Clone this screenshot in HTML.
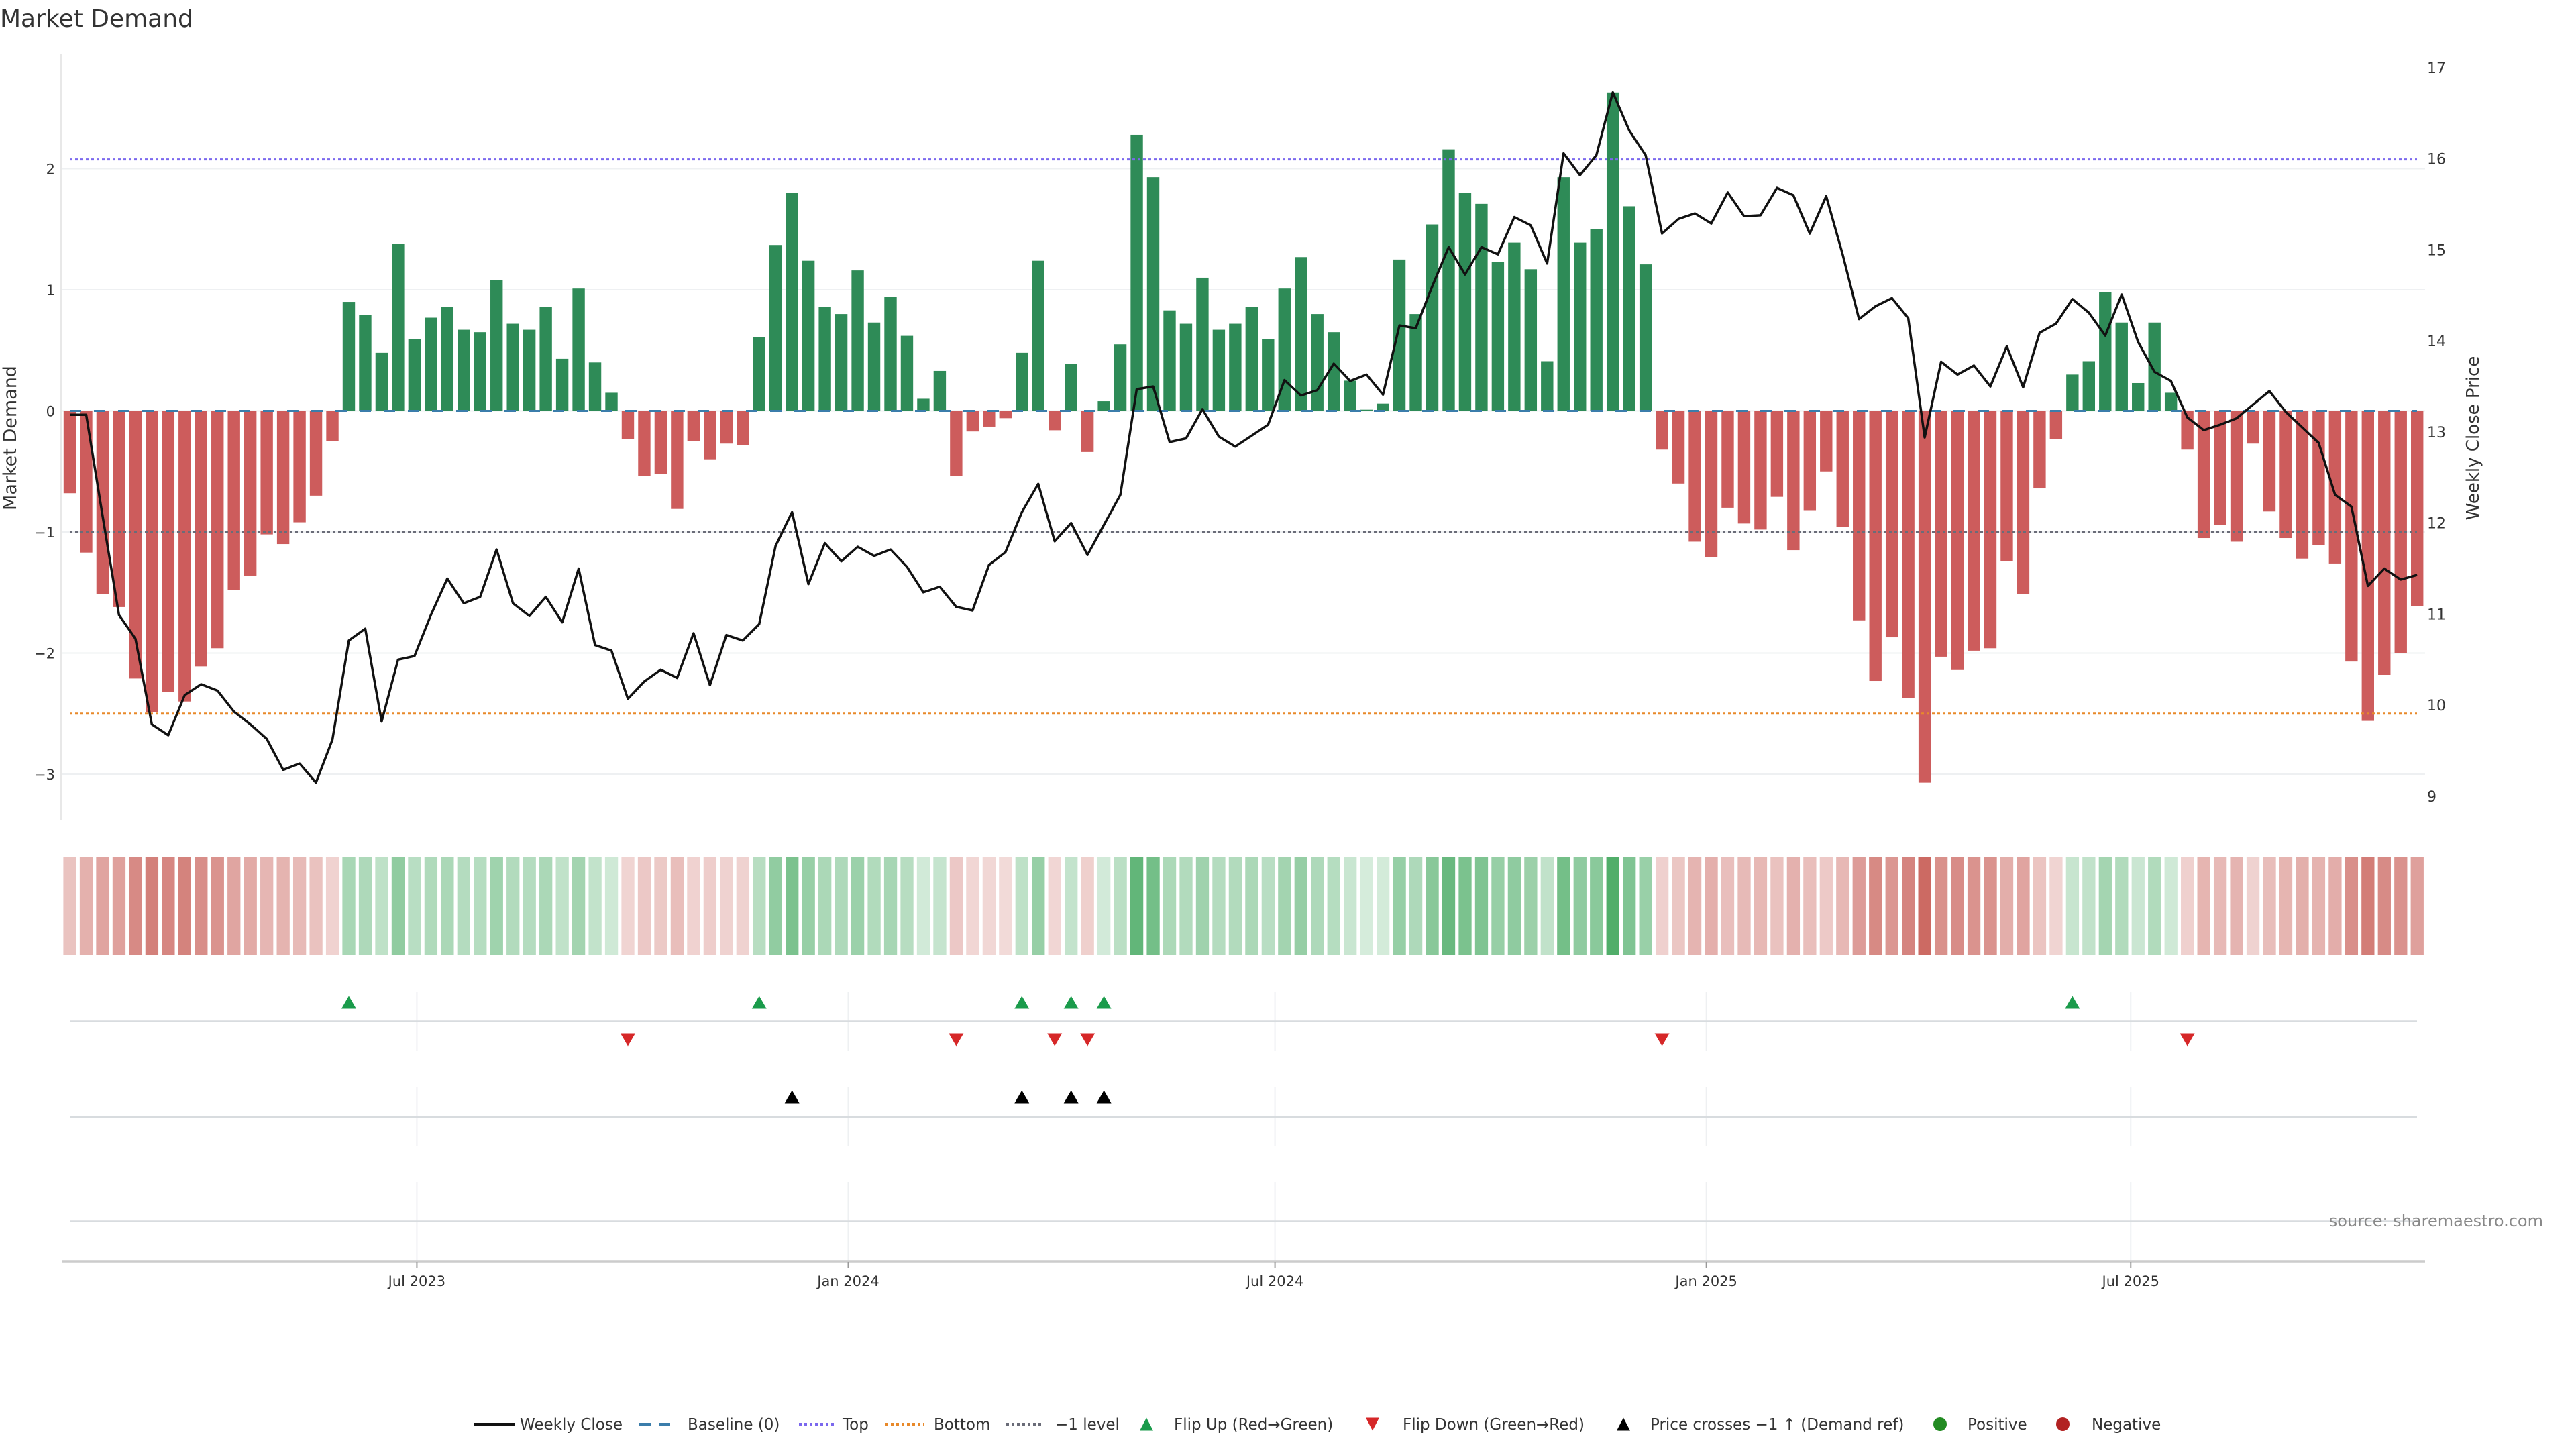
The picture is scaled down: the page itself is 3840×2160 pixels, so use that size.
<!DOCTYPE html>
<html><head><meta charset="utf-8"><title>Market Demand</title>
<style>
html,body{margin:0;padding:0;background:#fff;}
svg{display:block;font-family:"DejaVu Sans","Liberation Sans",sans-serif;}
</style></head>
<body>
<svg id="chart" width="3840" height="2160" viewBox="0 0 3840 2160" xmlns="http://www.w3.org/2000/svg">
<rect width="3840" height="2160" fill="#fff"/>
<text x="0" y="40" font-size="36" fill="#333">Market Demand</text>
<g id="main"></g>
<g id="heat"></g>
<g id="markers"></g>
<g id="xaxis"></g>
<g id="legend"></g>
<text x="3791" y="1828" font-size="24" fill="#888" text-anchor="end">source: sharemaestro.com</text>
</svg>
<script>
const demand = [-0.68,-1.17,-1.51,-1.62,-2.21,-2.49,-2.32,-2.40,-2.11,-1.96,-1.48,-1.36,-1.02,-1.10,-0.92,-0.70,-0.25,
0.90,0.79,0.48,1.38,0.59,0.77,0.86,0.67,0.65,1.08,0.72,0.67,0.86,0.43,1.01,0.40,0.15,
-0.23,-0.54,-0.52,-0.81,-0.25,-0.40,-0.27,-0.28,
0.61,1.37,1.80,1.24,0.86,0.80,
1.16,0.73,0.94,0.62,0.10,0.33,
-0.54,-0.17,-0.13,-0.06,
0.48,1.24,-0.16,0.39,-0.34,0.08,
0.55,2.28,1.93,0.83,0.72,1.10,0.67,0.72,0.86,0.59,1.01,1.27,0.80,0.65,0.25,
0.01,
0.06,1.25,0.80,1.54,2.16,1.80,1.71,1.23,1.39,1.17,0.41,1.93,1.39,1.50,2.63,1.69,1.21,
-0.32,-0.60,-1.08,-1.21,-0.80,-0.93,-0.98,-0.71,-1.15,-0.82,-0.50,-0.96,-1.73,-2.23,-1.87,-2.37,-3.07,-2.03,-2.14,-1.98,-1.96,-1.24,-1.51,-0.64,-0.23,
0.30,0.41,0.98,0.73,0.23,0.73,0.15,
-0.32,-1.05,-0.94,-1.08,-0.27,-0.83,-1.05,-1.22,-1.11,-1.26,-2.07,-2.56,-2.18,-2.00,-1.61];
const price = [13.19,13.19,12.08,10.99,10.73,9.79,9.67,10.11,10.23,10.16,9.93,9.79,9.63,9.29,9.36,9.15,9.62,
10.71,10.84,9.82,10.50,10.54,10.99,11.39,11.12,11.19,11.71,11.12,10.98,11.19,10.91,11.50,10.66,10.60,
10.07,10.26,10.39,10.30,10.79,10.22,10.77,10.71,10.89,11.75,12.12,11.33,11.78,11.58,11.74,11.64,
11.71,11.52,11.24,11.30,11.08,11.04,11.54,11.68,12.12,12.43,11.80,12.00,11.65,11.98,12.31,13.47,13.50,12.89,12.93,13.25,12.95,12.84,12.96,13.08,13.57,13.40,13.46,13.75,13.56,13.63,13.41,14.17,14.14,14.60,15.03,14.73,15.03,14.95,15.36,15.27,14.85,16.06,15.82,16.04,16.73,16.31,16.04,15.18,15.34,15.40,
15.29,15.63,15.37,15.38,15.68,15.60,15.18,15.59,14.95,14.24,14.38,14.47,14.25,12.94,13.77,13.63,13.73,13.50,13.94,13.49,14.09,14.19,14.46,14.31,14.06,14.51,13.99,13.66,13.56,13.16,13.02,13.08,13.15,13.30,13.45,13.22,13.05,12.88,12.31,12.18,11.31,11.50,11.38,11.43];
const demandTicks = [2,1,0,-1,-2,-3];
const demandTickLabels = ["2","1","0","\u22121","\u22122","\u22123"];
const priceTicks = [17,16,15,14,13,12,11,10,9];
const dateTicks = ["2023-07-01","2024-01-01","2024-07-01","2025-01-01","2025-07-01"];
const dateTickLabels = ["Jul 2023","Jan 2024","Jul 2024","Jan 2025","Jul 2025"];
const topLevel = 2.077, bottomLevel = -2.5, refLevel = -1;

const NS = "http://www.w3.org/2000/svg";
function mk(tag, attrs, parent){const e=document.createElementNS(NS,tag);for(const k in attrs)e.setAttribute(k,attrs[k]);parent.appendChild(e);return e;}
const xBar = i => 104 + i*24.47;
const yDem = v => 612.5 - v*180.5;
const yPrice = p => 236.7 + (16-p)*135.75;
const priceFromY = y => 16 - (y-236.7)/135.75;
const xDate = s => 1264.5 + (Date.parse(s)-Date.parse("2024-01-01"))/86400000*3.495;
const L=91, R=3615;

const main=document.getElementById('main');
demandTicks.forEach((t,k)=>{
  const g=mk('line',{x1:L,x2:R,y1:yDem(t),y2:yDem(t),stroke:'#eef0f2','stroke-width':2},main);
  
  
  const tx=mk('text',{x:82,y:yDem(t)+8,'font-size':21,fill:'#333','text-anchor':'end'},main);
  tx.textContent=demandTickLabels[k];
  
  
});
const ax=mk('line',{x1:L,x2:L,y1:80,y2:1222,stroke:'#e8e8e8','stroke-width':2},main);


priceTicks.forEach(p=>{
  const tx=mk('text',{x:3618,y:yPrice(p)+8,'font-size':22,fill:'#333'},main);
  tx.textContent=String(p);
  
  
});
const yt=mk('text',{x:0,y:0,'font-size':27,fill:'#333','text-anchor':'middle',transform:'translate(24,653) rotate(-90)'},main);
yt.textContent='Market Demand';


const yt2=mk('text',{x:0,y:0,'font-size':26,fill:'#333','text-anchor':'middle',transform:'translate(3695,653) rotate(-90)'},main);
yt2.textContent='Weekly Close Price';


demand.forEach((v,i)=>{
  const y0=yDem(0), y1=yDem(v);
  const b=mk('rect',{x:xBar(i)-9.2,y:Math.min(y0,y1),width:18.4,height:Math.max(0.5,Math.abs(y1-y0)),fill:v>=0?'#2e8b57':'#cd5c5c'},main);
  
  
});
[[topLevel,'#7b68ee','top-level-line'],[bottomLevel,'#e8892a','bottom-level-line'],[refLevel,'#6a6c78','minus-one-level-line']].forEach(a=>{
  const l=mk('line',{x1:104,x2:3603,y1:yDem(a[0]),y2:yDem(a[0]),stroke:a[1],'stroke-width':3,'stroke-dasharray':'4 4'},main);
  
  
});
const bl=mk('line',{x1:104,x2:3603,y1:yDem(0),y2:yDem(0),stroke:'#3b7dab','stroke-width':3,'stroke-dasharray':'17 19'},main);


const pts=price.map((p,i)=>xBar(i).toFixed(1)+','+yPrice(p).toFixed(1)).join(' ');
const pl=mk('polyline',{points:pts,fill:'none',stroke:'#111','stroke-width':3.5,'stroke-linejoin':'round'},main);



const heat=document.getElementById('heat');
const maxPos=Math.max(...demand), maxNeg=Math.max(...demand.map(v=>-v));
demand.forEach((v,i)=>{
  const a = v>=0 ? 0.2+0.65*v/maxPos : 0.2+0.65*(-v)/maxNeg;
  const c = v>=0 ? 'rgba(50,160,80,'+a.toFixed(3)+')' : 'rgba(195,80,72,'+a.toFixed(3)+')';
  const r=mk('rect',{x:xBar(i)-9.6,y:1278,width:19.3,height:146,fill:c},heat);
  
  
});

const mg=document.getElementById('markers');
dateTicks.forEach(d=>{
  const x=xDate(d);
  [[1479,1567],[1620,1708],[1762,1880]].forEach(s=>{
    const g=mk('line',{x1:x,x2:x,y1:s[0],y2:s[1],stroke:'#eef0f2','stroke-width':2},mg);
    
    
  });
});
[1522.5,1665,1820.5].forEach(y=>{
  const l=mk('line',{x1:104,x2:3603,y1:y,y2:y,stroke:'#d8dcdf','stroke-width':2.5},mg);
  
  
});
function tri(x,y,up,color,name){
  const h=19,w=22;
  const p= up ? `${x},${y-h/2} ${x-w/2},${y+h/2} ${x+w/2},${y+h/2}` : `${x-w/2},${y-h/2} ${x+w/2},${y-h/2} ${x},${y+h/2}`;
  const t=mk('polygon',{points:p,fill:color},mg);
  
  
}
const thr=priceFromY(yDem(refLevel));
for(let i=1;i<demand.length;i++){
  if(demand[i-1]<0 && demand[i]>=0) tri(xBar(i),1494,true,'#1a9b4b','flip-up-marker');
  if(demand[i-1]>=0 && demand[i]<0) tri(xBar(i),1550,false,'#d62728','flip-down-marker');
  if(price[i-1]<thr && price[i]>=thr) tri(xBar(i),1635,true,'#000','price-cross-marker');
}

const xa=document.getElementById('xaxis');
const axl=mk('line',{x1:92,x2:3615,y1:1880.5,y2:1880.5,stroke:'#ccc','stroke-width':2.5},xa);


dateTicks.forEach((d,k)=>{
  const x=xDate(d);
  const tk=mk('line',{x1:x,x2:x,y1:1881,y2:1890,stroke:'#999','stroke-width':2},xa);
  
  
  const t=mk('text',{x:x,y:1917,'font-size':21,fill:'#333','text-anchor':'middle'},xa);
  t.textContent=dateTickLabels[k];
  
  
});

const lg=document.getElementById('legend');
const LY=2123;
function ltext(x,s,name){const t=mk('text',{x:x,y:LY+8,'font-size':23,fill:'#333'},lg);t.textContent=s;}
function lline(x1,x2,color,dash,w,name){const l=mk('line',{x1:x1,x2:x2,y1:LY,y2:LY,stroke:color,'stroke-width':w,'stroke-dasharray':dash},lg);}
lline(707,767,'#111','none',4,'legend-weekly-close-swatch'); ltext(775,'Weekly Close','legend-weekly-close');
lline(953,1008,'#3b7dab','17 12',4,'legend-baseline-swatch'); ltext(1025,'Baseline (0)','legend-baseline');
lline(1191,1246,'#7b68ee','4 4',4,'legend-top-swatch'); ltext(1256,'Top','legend-top');
lline(1320,1378,'#e8892a','4 4',4,'legend-bottom-swatch'); ltext(1392,'Bottom','legend-bottom');
lline(1500,1556,'#6a6c78','4 4',4,'legend-minus-one-swatch'); ltext(1573,'\u22121 level','legend-minus-one-level');
function ltri(x,up,color,name){const h=19,w=20;const p= up?`${x},${LY-h/2} ${x-w/2},${LY+h/2} ${x+w/2},${LY+h/2}`:`${x-w/2},${LY-h/2} ${x+w/2},${LY-h/2} ${x},${LY+h/2}`;const t=mk('polygon',{points:p,fill:color},lg);}
ltri(1709,true,'#1a9b4b','legend-flip-up-swatch'); ltext(1750,'Flip Up (Red\u2192Green)','legend-flip-up');
ltri(2046,false,'#d62728','legend-flip-down-swatch'); ltext(2091,'Flip Down (Green\u2192Red)','legend-flip-down');
ltri(2420,true,'#000','legend-price-cross-swatch'); ltext(2460,'Price crosses \u22121 \u2191 (Demand ref)','legend-price-cross');
const c1=mk('circle',{cx:2892,cy:LY,r:10,fill:'#228b22'},lg);


ltext(2933,'Positive','legend-positive');
const c2=mk('circle',{cx:3075,cy:LY,r:10,fill:'#b22222'},lg);


ltext(3118,'Negative','legend-negative');
</script>
</body></html>
